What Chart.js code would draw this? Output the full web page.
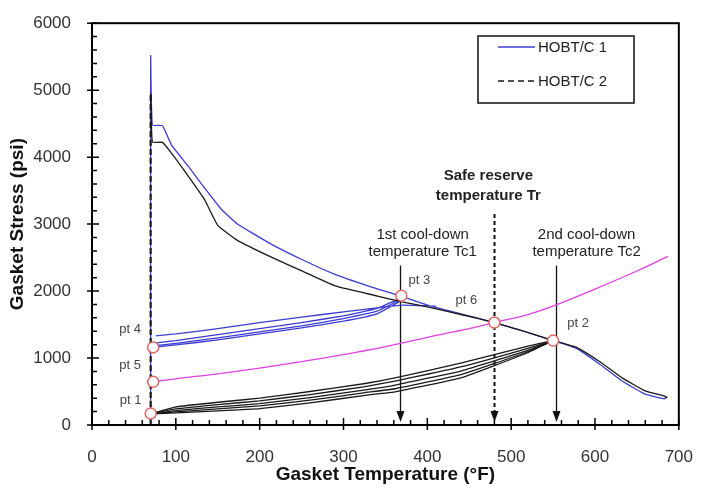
<!doctype html>
<html lang="en">
<head>
<meta charset="utf-8">
<title>Gasket Stress vs Gasket Temperature</title>
<style>
  * { margin: 0; padding: 0; }
  body { background: #fff; }
  .chartBox { width: 707px; height: 496px; }
</style>
</head>
<body>
<div class="chartBox"><canvas id="myChart" width="707" height="496"></canvas></div>
<script src="https://cdn.jsdelivr.net/npm/chart.js/dist/chart.umd.min.js"></script>
<script>
// values: temperature in °F, gasket stress in psi
const spikeT = 70;
const c1SpikeS = [0, 5510];
const c2SpikeS = [0, 4940];

// unloading curves (top) down to the end of the test
const c1CurveT = [72, 84, 95, 115, 134, 154, 173, 212, 251, 290, 329, 367, 400, 440, 480, 515, 550, 565, 580, 605, 632, 659, 683, 686];
const c1CurveS = [4480, 4470, 4179, 3861, 3544, 3226, 3006, 2713, 2468, 2248, 2078, 1931, 1790, 1660, 1530, 1400, 1261, 1205, 1130, 914, 660, 465, 392, 430];
const c2CurveT = [72, 84, 95, 115, 134, 150, 173, 212, 251, 290, 329, 367, 400, 440, 480, 515, 550, 562, 578, 605, 632, 659, 683, 686];
const c2CurveS = [4227, 4220, 4057, 3714, 3372, 2981, 2761, 2517, 2298, 2078, 1960, 1845, 1765, 1650, 1530, 1400, 1261, 1221, 1160, 953, 708, 513, 430, 400];

// HOBT/C 1 thermal cycles, pt 4 -> pt 3
const c1LoopT = [73, 100, 150, 200, 250, 300, 340, 369];
const c1Loop1T = [76, 100, 150, 200, 250, 300, 340, 369, 410];
const c1Loop1S = [1330, 1360, 1440, 1530, 1610, 1690, 1750, 1790, 1775];
const c1Loop2S = [1220, 1260, 1350, 1440, 1530, 1630, 1740, 1900];
const c1Loop3S = [1180, 1220, 1300, 1390, 1480, 1590, 1700, 1880];
const c1Loop4S = [1160, 1195, 1270, 1360, 1450, 1550, 1660, 1860];

// HOBT/C 2 thermal cycles, pt 1 -> pt 2
const c2LoopT = [73, 100, 150, 200, 260, 324, 363, 441, 519, 550];
const c2Loop1S = [175, 270, 340, 400, 500, 616, 708, 928, 1173, 1261];
const c2Loop2S = [172, 240, 305, 360, 455, 570, 660, 870, 1140, 1261];
const c2Loop3S = [170, 215, 270, 320, 410, 520, 600, 810, 1110, 1261];
const c2Loop4S = [168, 195, 240, 285, 370, 480, 545, 755, 1090, 1261];
const c2Loop5S = [165, 180, 210, 245, 330, 440, 500, 708, 1075, 1261];

// theoretical curve through pt 5 and pt 6
const theoT = [73, 100, 150, 200, 250, 300, 350, 400, 450, 480, 520, 553, 600, 650, 687];
const theoS = [645, 690, 765, 850, 945, 1050, 1170, 1310, 1440, 1530, 1650, 1790, 2030, 2300, 2517];

// marked points
const ptNames = ['pt 1', 'pt 4', 'pt 5', 'pt 3', 'pt 6', 'pt 2'];
const ptT = [70, 73, 73, 369, 480, 550];
const ptS = [170, 1158, 645, 1931, 1530, 1261];

// cool-down / reserve temperatures
const markT = [367, 480, 553];

// label placement (pixel offsets from the point circles)
const ptLabelDx = [-20, -23, -23, 18, -28, 25];
const ptLabelDy = [-13, -18, -16, -15, -22, -17];

function pts(t, s) {
  return t.map((v, i) => ({ x: v, y: s[i] }));
}
function joined(parts) {
  const out = [];
  parts.forEach((p, i) => {
    if (i) out.push({ x: p[0].x, y: null });
    out.push(...p);
  });
  return out;
}

const blueData = joined([
  [{ x: spikeT, y: c1SpikeS[0] }, { x: spikeT, y: c1SpikeS[1] }, ...pts(c1CurveT, c1CurveS)],
  pts(c1Loop1T, c1Loop1S),
  pts(c1LoopT, c1Loop2S),
  pts(c1LoopT, c1Loop3S),
  pts(c1LoopT, c1Loop4S)
]);
const blackData = joined([
  [{ x: spikeT, y: c2SpikeS[0] }, { x: spikeT, y: c2SpikeS[1] }, ...pts(c2CurveT, c2CurveS)],
  pts(c2LoopT, c2Loop1S),
  pts(c2LoopT, c2Loop2S),
  pts(c2LoopT, c2Loop3S),
  pts(c2LoopT, c2Loop4S),
  pts(c2LoopT, c2Loop5S)
]);

const FONT = 'Arial, "Liberation Sans", Helvetica, sans-serif';

const decor = {
  id: 'decor',
  beforeDatasetsDraw(chart) {
    const { ctx, scales: { x, y } } = chart;
    const tops = [2380, 3150, 2380];
    const tip = y.getPixelForValue(0) - 3;
    markT.forEach((t, i) => {
      const px = Math.round(x.getPixelForValue(t)) + 0.5;
      ctx.save();
      ctx.strokeStyle = '#111';
      ctx.fillStyle = '#111';
      ctx.lineWidth = i === 1 ? 2 : 1.3;
      ctx.setLineDash(i === 1 ? [4, 3] : []);
      ctx.beginPath();
      ctx.moveTo(px, y.getPixelForValue(tops[i]));
      ctx.lineTo(px, tip - 8);
      ctx.stroke();
      ctx.setLineDash([]);
      ctx.beginPath();
      ctx.moveTo(px - 4, tip - 11);
      ctx.lineTo(px + 4, tip - 11);
      ctx.lineTo(px, tip);
      ctx.closePath();
      ctx.fill();
      ctx.restore();
    });
  },
  afterDatasetsDraw(chart) {
    const { ctx, chartArea: a, scales: { x, y } } = chart;
    ctx.save();
    // frame
    ctx.strokeStyle = '#000';
    ctx.lineWidth = 2;
    ctx.strokeRect(a.left, a.top, a.right - a.left, a.bottom - a.top);
    // ticks
    ctx.lineWidth = 1.5;
    ctx.beginPath();
    for (let t = 0; t <= 700; t += 20) {
      const px = x.getPixelForValue(t);
      const major = t % 100 === 0;
      ctx.moveTo(px, a.bottom + (major ? 5 : 0));
      ctx.lineTo(px, a.bottom - (major ? 7 : 5));
    }
    for (let s = 0; s <= 6000; s += 200) {
      const py = y.getPixelForValue(s);
      const major = s % 1000 === 0;
      ctx.moveTo(a.left - (major ? 5 : 0), py);
      ctx.lineTo(a.left + (major ? 7 : 5), py);
    }
    ctx.stroke();

    // point labels
    ctx.fillStyle = '#444';
    ctx.font = '13px ' + FONT;
    ctx.textAlign = 'center';
    ctx.textBaseline = 'middle';
    ptNames.forEach((n, i) => {
      ctx.fillText(n, x.getPixelForValue(ptT[i]) + ptLabelDx[i], y.getPixelForValue(ptS[i]) + ptLabelDy[i]);
    });

    // temperature captions
    ctx.fillStyle = '#222';
    ctx.font = '15px ' + FONT;
    ctx.fillText('1st cool-down', x.getPixelForValue(markT[0]) + 23, 235);
    ctx.fillText('temperature Tc1', x.getPixelForValue(markT[0]) + 23, 252);
    ctx.fillText('2nd cool-down', x.getPixelForValue(markT[2]) + 31, 235);
    ctx.fillText('temperature Tc2', x.getPixelForValue(markT[2]) + 31, 252);
    ctx.font = 'bold 15px ' + FONT;
    ctx.fillText('Safe reserve', x.getPixelForValue(markT[1]) - 6, 176);
    ctx.fillText('temperature Tr', x.getPixelForValue(markT[1]) - 6, 196);

    // legend box
    ctx.fillStyle = '#fff';
    ctx.fillRect(478, 36, 156, 67);
    ctx.strokeStyle = '#111';
    ctx.lineWidth = 1.5;
    ctx.strokeRect(478, 36, 156, 67);
    const items = chart.data.datasets.slice(0, 2);
    items.forEach((d, i) => {
      const ly = 47 + i * 34;
      ctx.strokeStyle = d.borderColor;
      ctx.lineWidth = 1.6;
      ctx.setLineDash(i === 1 ? [6, 4] : []);
      ctx.beginPath();
      ctx.moveTo(498, ly);
      ctx.lineTo(535, ly);
      ctx.stroke();
      ctx.setLineDash([]);
      ctx.fillStyle = '#222';
      ctx.font = '15px ' + FONT;
      ctx.textAlign = 'left';
      ctx.fillText(d.label, 538, ly + 1);
    });
    ctx.restore();
  }
};

const config = {
  type: 'line',
  data: {
    datasets: [
      {
        label: 'HOBT/C 1',
        data: blueData,
        borderColor: '#3c3cd2',
        borderWidth: 1.3,
        pointRadius: 0,
        spanGaps: false,
        tension: 0.12,
        order: 2
      },
      {
        label: 'HOBT/C 2',
        data: blackData,
        borderColor: '#1a1a1a',
        borderWidth: 1.3,
        pointRadius: 0,
        spanGaps: false,
        tension: 0.12,
        order: 1,
        segment: {
          borderDash: c => c.p0.parsed.x === c.p1.parsed.x ? [6, 3] : [],
          borderWidth: c => c.p0.parsed.x === c.p1.parsed.x ? 2.2 : 1.3
        }
      },
      {
        label: 'Theoretical',
        data: pts(theoT, theoS),
        borderColor: '#e040e0',
        borderWidth: 1.3,
        pointRadius: 0,
        tension: 0.4,
        order: 3
      },
      {
        label: 'points',
        data: pts(ptT, ptS),
        showLine: false,
        pointRadius: 5.5,
        pointBorderWidth: 1.5,
        pointBorderColor: '#e06666',
        pointBackgroundColor: '#fff',
        order: 0
      }
    ]
  },
  options: {
    responsive: false,
    animation: false,
    devicePixelRatio: 1,
    layout: { padding: { top: 16, right: 15, left: 0, bottom: 0 } },
    plugins: { legend: { display: false }, tooltip: { enabled: false } },
    scales: {
      x: {
        type: 'linear',
        min: 0,
        max: 700,
        grid: { display: false },
        border: { display: false },
        ticks: { stepSize: 100, padding: 14, color: '#333', font: { family: FONT, size: 17 }, callback: v => String(v) },
        title: {
          display: true,
          text: 'Gasket Temperature (°F)',
          color: '#111',
          font: { family: FONT, size: 19, weight: 'bold' },
          padding: { top: 0, bottom: 10 }
        },
        afterFit: s => { s.height = 71; }
      },
      y: {
        min: 0,
        max: 6000,
        grid: { display: false },
        border: { display: false },
        ticks: { stepSize: 1000, padding: 13, color: '#333', font: { family: FONT, size: 17 }, callback: v => String(v) },
        title: {
          display: true,
          text: 'Gasket Stress (psi)',
          color: '#111',
          font: { family: FONT, size: 19, weight: 'bold' },
          padding: { top: 6, bottom: 0 }
        },
        afterFit: s => { s.width = 92; }
      }
    }
  },
  plugins: [decor]
};

const myChart = new Chart(document.getElementById('myChart'), config);
</script>
</body>
</html>
